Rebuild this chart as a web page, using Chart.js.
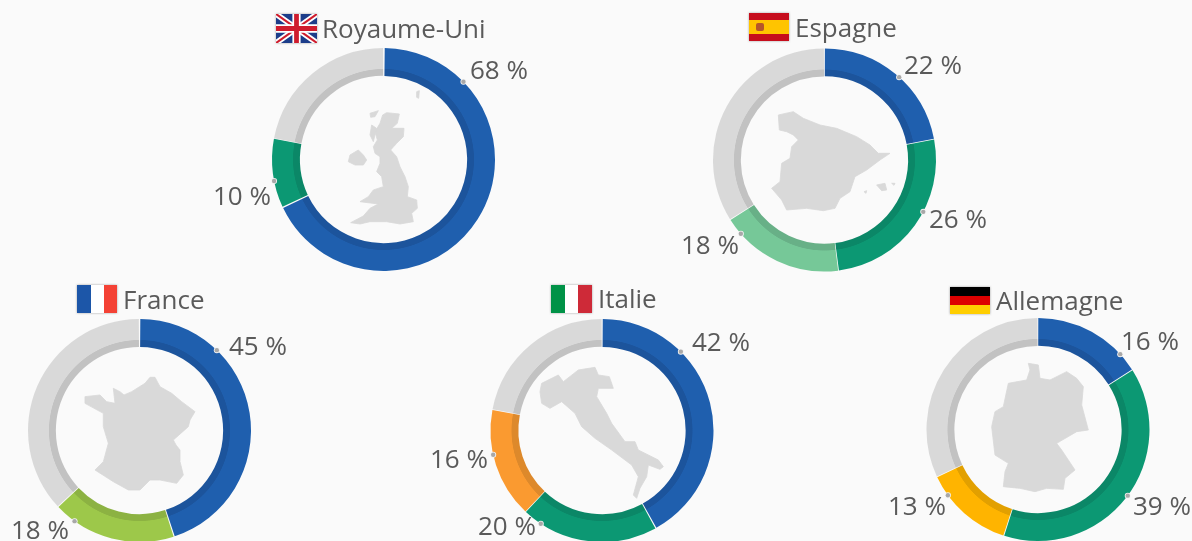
<!DOCTYPE html>
<html lang="fr">
<head>
<meta charset="utf-8">
<title>Donuts par pays</title>
<script src="https://cdn.jsdelivr.net/npm/chart.js@4"></script>
<style>
html,body{margin:0;padding:0;background:#fafafa;width:1192px;height:541px;overflow:hidden}
#stage{position:relative;width:1192px;height:541px;overflow:hidden;filter:blur(.45px);font-family:"Open Sans",sans-serif;color:#5a5a5a}
canvas{position:absolute}
svg{position:absolute;left:0;top:0}
.t{position:absolute;white-space:nowrap;line-height:1;font-size:26px}
.shape{fill:#d9d9d9;stroke:#d9d9d9;stroke-width:2.5;stroke-linejoin:round}
</style>
</head>
<body>
<div id="stage">
<svg width="1192" height="541" viewBox="0 0 1192 541">
  <defs><filter id="fs" x="-10%" y="-10%" width="120%" height="120%"><feDropShadow dx="0" dy="0" stdDeviation=".8" flood-color="#888" flood-opacity=".8"/></filter></defs>
  <!-- silhouettes -->
  <g class="shape" transform="translate(200,0) scale(.33333)">
    <polygon points="560,338 598,342 592,370 575,385 612,385 610,410 590,430 572,450 590,470 600,500 615,530 625,560 622,590 650,600 652,625 635,640 640,665 600,672 560,665 510,665 480,672 452,668 490,648 510,625 535,612 480,605 505,590 520,570 550,560 545,530 530,515 540,490 540,470 525,460 520,440 532,420 525,395 540,370 548,345"/>
    <polygon points="450,465 475,450 490,465 500,480 490,495 465,495 445,485"/>
    <polygon points="510,340 535,332 525,350 512,352"/>
    <polygon points="515,375 530,385 520,425 510,405"/>
    <polygon points="650,275 658,272 656,295 650,292"/>
  </g>
  <g class="shape" transform="translate(670,0) scale(.33333)">
    <polygon points="325,345 370,335 400,355 450,375 500,385 560,410 600,435 625,460 660,460 630,480 590,510 555,530 540,575 510,595 495,625 460,632 410,625 350,630 335,600 305,565 330,545 335,490 360,475 365,440 385,420 370,405 350,395 328,390"/>
    <polygon points="620,555 645,550 650,570 635,572"/>
    <polygon points="665,550 675,550 672,556"/>
    <polygon points="582,575 590,572 588,580"/>
  </g>
  <g class="shape" transform="translate(0,280) scale(.33333)">
    <polygon points="255,350 300,345 320,365 345,370 340,325 360,335 372,345 395,335 435,310 450,292 465,292 480,320 515,340 545,365 585,395 570,420 565,440 520,480 528,495 540,510 540,545 550,585 530,610 480,600 450,600 420,630 385,630 340,605 285,570 310,545 325,490 310,440 310,400 255,370"/>
  </g>
  <g class="shape" transform="translate(425,280) scale(.33333)">
    <polygon points="350,310 400,285 415,305 460,270 510,262 520,285 553,290 565,325 520,325 515,350 545,400 560,430 600,485 630,485 640,510 700,540 715,560 705,568 670,555 665,590 645,625 635,655 625,645 640,590 620,555 560,510 510,475 470,440 450,400 410,365 375,385 350,370 345,335"/>
  </g>
  <g class="shape" transform="translate(880,280) scale(.33333)">
    <polygon points="445,250 475,255 480,295 510,300 560,275 590,295 610,320 605,375 625,450 590,455 530,490 545,510 585,570 555,595 550,628 500,625 465,635 420,625 370,620 375,575 385,550 345,525 335,440 345,395 370,380 385,310 440,300 450,270"/>
  </g>
  <!-- flags -->
  <g filter="url(#fs)">
    <svg x="276" y="14" width="41" height="29" viewBox="0 0 60 40" preserveAspectRatio="none">
      <rect width="60" height="40" fill="#1f3d8a"/>
      <path d="M0 0L60 40M60 0L0 40" stroke="#fff" stroke-width="8"/>
      <path d="M0 0L60 40M60 0L0 40" stroke="#cf1f2e" stroke-width="3"/>
      <path d="M30 0V40M0 20H60" stroke="#fff" stroke-width="12"/>
      <path d="M30 0V40M0 20H60" stroke="#cf1f2e" stroke-width="7"/>
    </svg>
  </g>
  <g filter="url(#fs)">
    <rect x="749" y="13" width="40" height="28" fill="#ffc400"/>
    <rect x="749" y="13" width="40" height="7" fill="#c60b1e"/>
    <rect x="749" y="34" width="40" height="7" fill="#c60b1e"/>
    <rect x="756" y="23" width="8" height="8" rx="2" fill="#b5562a"/>
  </g>
  <g filter="url(#fs)">
    <rect x="77" y="285" width="14" height="28" fill="#1f56a8"/>
    <rect x="91" y="285" width="13" height="28" fill="#fff"/>
    <rect x="104" y="285" width="13" height="28" fill="#f44336"/>
  </g>
  <g filter="url(#fs)">
    <rect x="551" y="285" width="14" height="28" fill="#009246"/>
    <rect x="565" y="285" width="13" height="28" fill="#fff"/>
    <rect x="578" y="285" width="14" height="28" fill="#ce2b37"/>
  </g>
  <g filter="url(#fs)">
    <rect x="950" y="287" width="40" height="9" fill="#000"/>
    <rect x="950" y="296" width="40" height="9" fill="#dd0000"/>
    <rect x="950" y="305" width="40" height="9" fill="#ffce00"/>
  </g>
</svg>
</div>
<script>
// ---- data ----
const countries = ['Royaume-Uni', 'Espagne', 'France', 'Italie', 'Allemagne'];
const ukValues = [68, 10, 22];
const esValues = [22, 26, 18, 34];
const frValues = [45, 18, 37];
const itValues = [42, 20, 16, 22];
const deValues = [16, 39, 13, 32];
const labelledCounts = [2, 3, 2, 3, 3];   // the last slice of each ring (grey) has no label

// ---- styles and layout, kept apart from the data ----
const allValues = [ukValues, esValues, frValues, itValues, deValues];
const C = {
  blue:['#1f5fae','#1c549c'], green:['#0c9873','#0b8767'], light:['#76c898','#68b087'],
  lime:['#9dc84a','#8cb242'], orange:['#fa9a30','#dd892b'], yellow:['#ffb400','#e2a000'],
  grey:['#d9d9d9','#c2c2c2']
};
const palettes = [
  ['blue','green','grey'],
  ['blue','green','light','grey'],
  ['blue','lime','grey'],
  ['blue','green','orange','grey'],
  ['blue','green','yellow','grey']
];
const centres = [[383.5,159.5],[824.5,160],[139.5,430.5],[602,430.5],[1038,429.5]];
const titlePos = [[322,38],[795,37],[123,309],[598,308],[996,310]];
// dot angle (degrees clockwise from 12 o'clock) and label anchor per labelled slice
const dotAngles = [[45.8,258.9],[42,117.7,228.6],[43.9,215.6],[45,213.3,257.4],[47.5,126.4,233.9]];
const labelPos = [
  [[470,79],[213,205]],
  [[904,74],[929,228],[681,254]],
  [[229,355],[11,539]],
  [[692,351],[478,535],[430,468]],
  [[1121,350],[1133,515],[888,515]]
];
const SIZE = 240, RADIUS = 111.5, INNER = 83.5, BAND = 90.5, SPACING = 1;
const stage = document.getElementById('stage');

function addText(str, x, baseline) {
  const s = document.createElement('span');
  s.className = 't';
  s.textContent = str;
  s.style.left = x + 'px';
  s.style.top = (baseline - 23.1) + 'px';
  stage.appendChild(s);
}

const dotPlugin = {
  id: 'dots',
  afterDraw(chart, args, opts) {
    const arc = chart.getDatasetMeta(0).data[0];
    const ctx = chart.ctx;
    opts.angles.forEach(a => {
      const t = a * Math.PI / 180;
      const x = arc.x + Math.sin(t) * RADIUS, y = arc.y - Math.cos(t) * RADIUS;
      ctx.beginPath(); ctx.arc(x, y, 3, 0, 2 * Math.PI); ctx.fillStyle = '#f4f4f4'; ctx.fill();
      ctx.beginPath(); ctx.arc(x, y, 2.2, 0, 2 * Math.PI); ctx.fillStyle = '#a8a8a8'; ctx.fill();
    });
  }
};

countries.forEach((name, i) => {
  const cv = document.createElement('canvas');
  cv.width = SIZE; cv.height = SIZE;
  const fx = centres[i][0] - Math.floor(centres[i][0]);
  const fy = centres[i][1] - Math.floor(centres[i][1]);
  cv.style.left = (Math.floor(centres[i][0]) - SIZE / 2) + 'px';
  cv.style.top = (Math.floor(centres[i][1]) - SIZE / 2) + 'px';
  cv.style.width = SIZE + 'px'; cv.style.height = SIZE + 'px';
  stage.appendChild(cv);
  const values = allValues[i];
  const pal = palettes[i];
  const ctx = cv.getContext('2d');
  const p = SIZE / 2 - RADIUS;
  const fills = pal.map(k => {
    const g = ctx.createRadialGradient(SIZE / 2 + fx, SIZE / 2 + fy, 0, SIZE / 2 + fx, SIZE / 2 + fy, RADIUS + 2);
    const s = BAND / (RADIUS + 2);
    g.addColorStop(0, C[k][1]);
    g.addColorStop(s - 0.003, C[k][1]);
    g.addColorStop(s + 0.003, C[k][0]);
    g.addColorStop(1, C[k][0]);
    return g;
  });
  new Chart(cv, {
    type: 'doughnut',
    plugins: [dotPlugin],
    data: {
      labels: pal,
      datasets: [
        { data: values, backgroundColor: fills, borderWidth: 0, spacing: SPACING }
      ]
    },
    options: {
      responsive: false, animation: false, cutout: (INNER / RADIUS * 100) + '%', rotation: 0, spacing: SPACING,
      layout: { padding: { left: p + fx, right: p - fx, top: p + fy, bottom: p - fy } },
      events: [],
      plugins: { legend: { display: false }, tooltip: { enabled: false }, dots: { angles: dotAngles[i] } }
    }
  });
  addText(name, titlePos[i][0], titlePos[i][1]);
  for (let k = 0; k < labelledCounts[i]; k++) {
    addText(values[k] + ' %', labelPos[i][k][0], labelPos[i][k][1]);
  }
});
</script>
</body>
</html>
